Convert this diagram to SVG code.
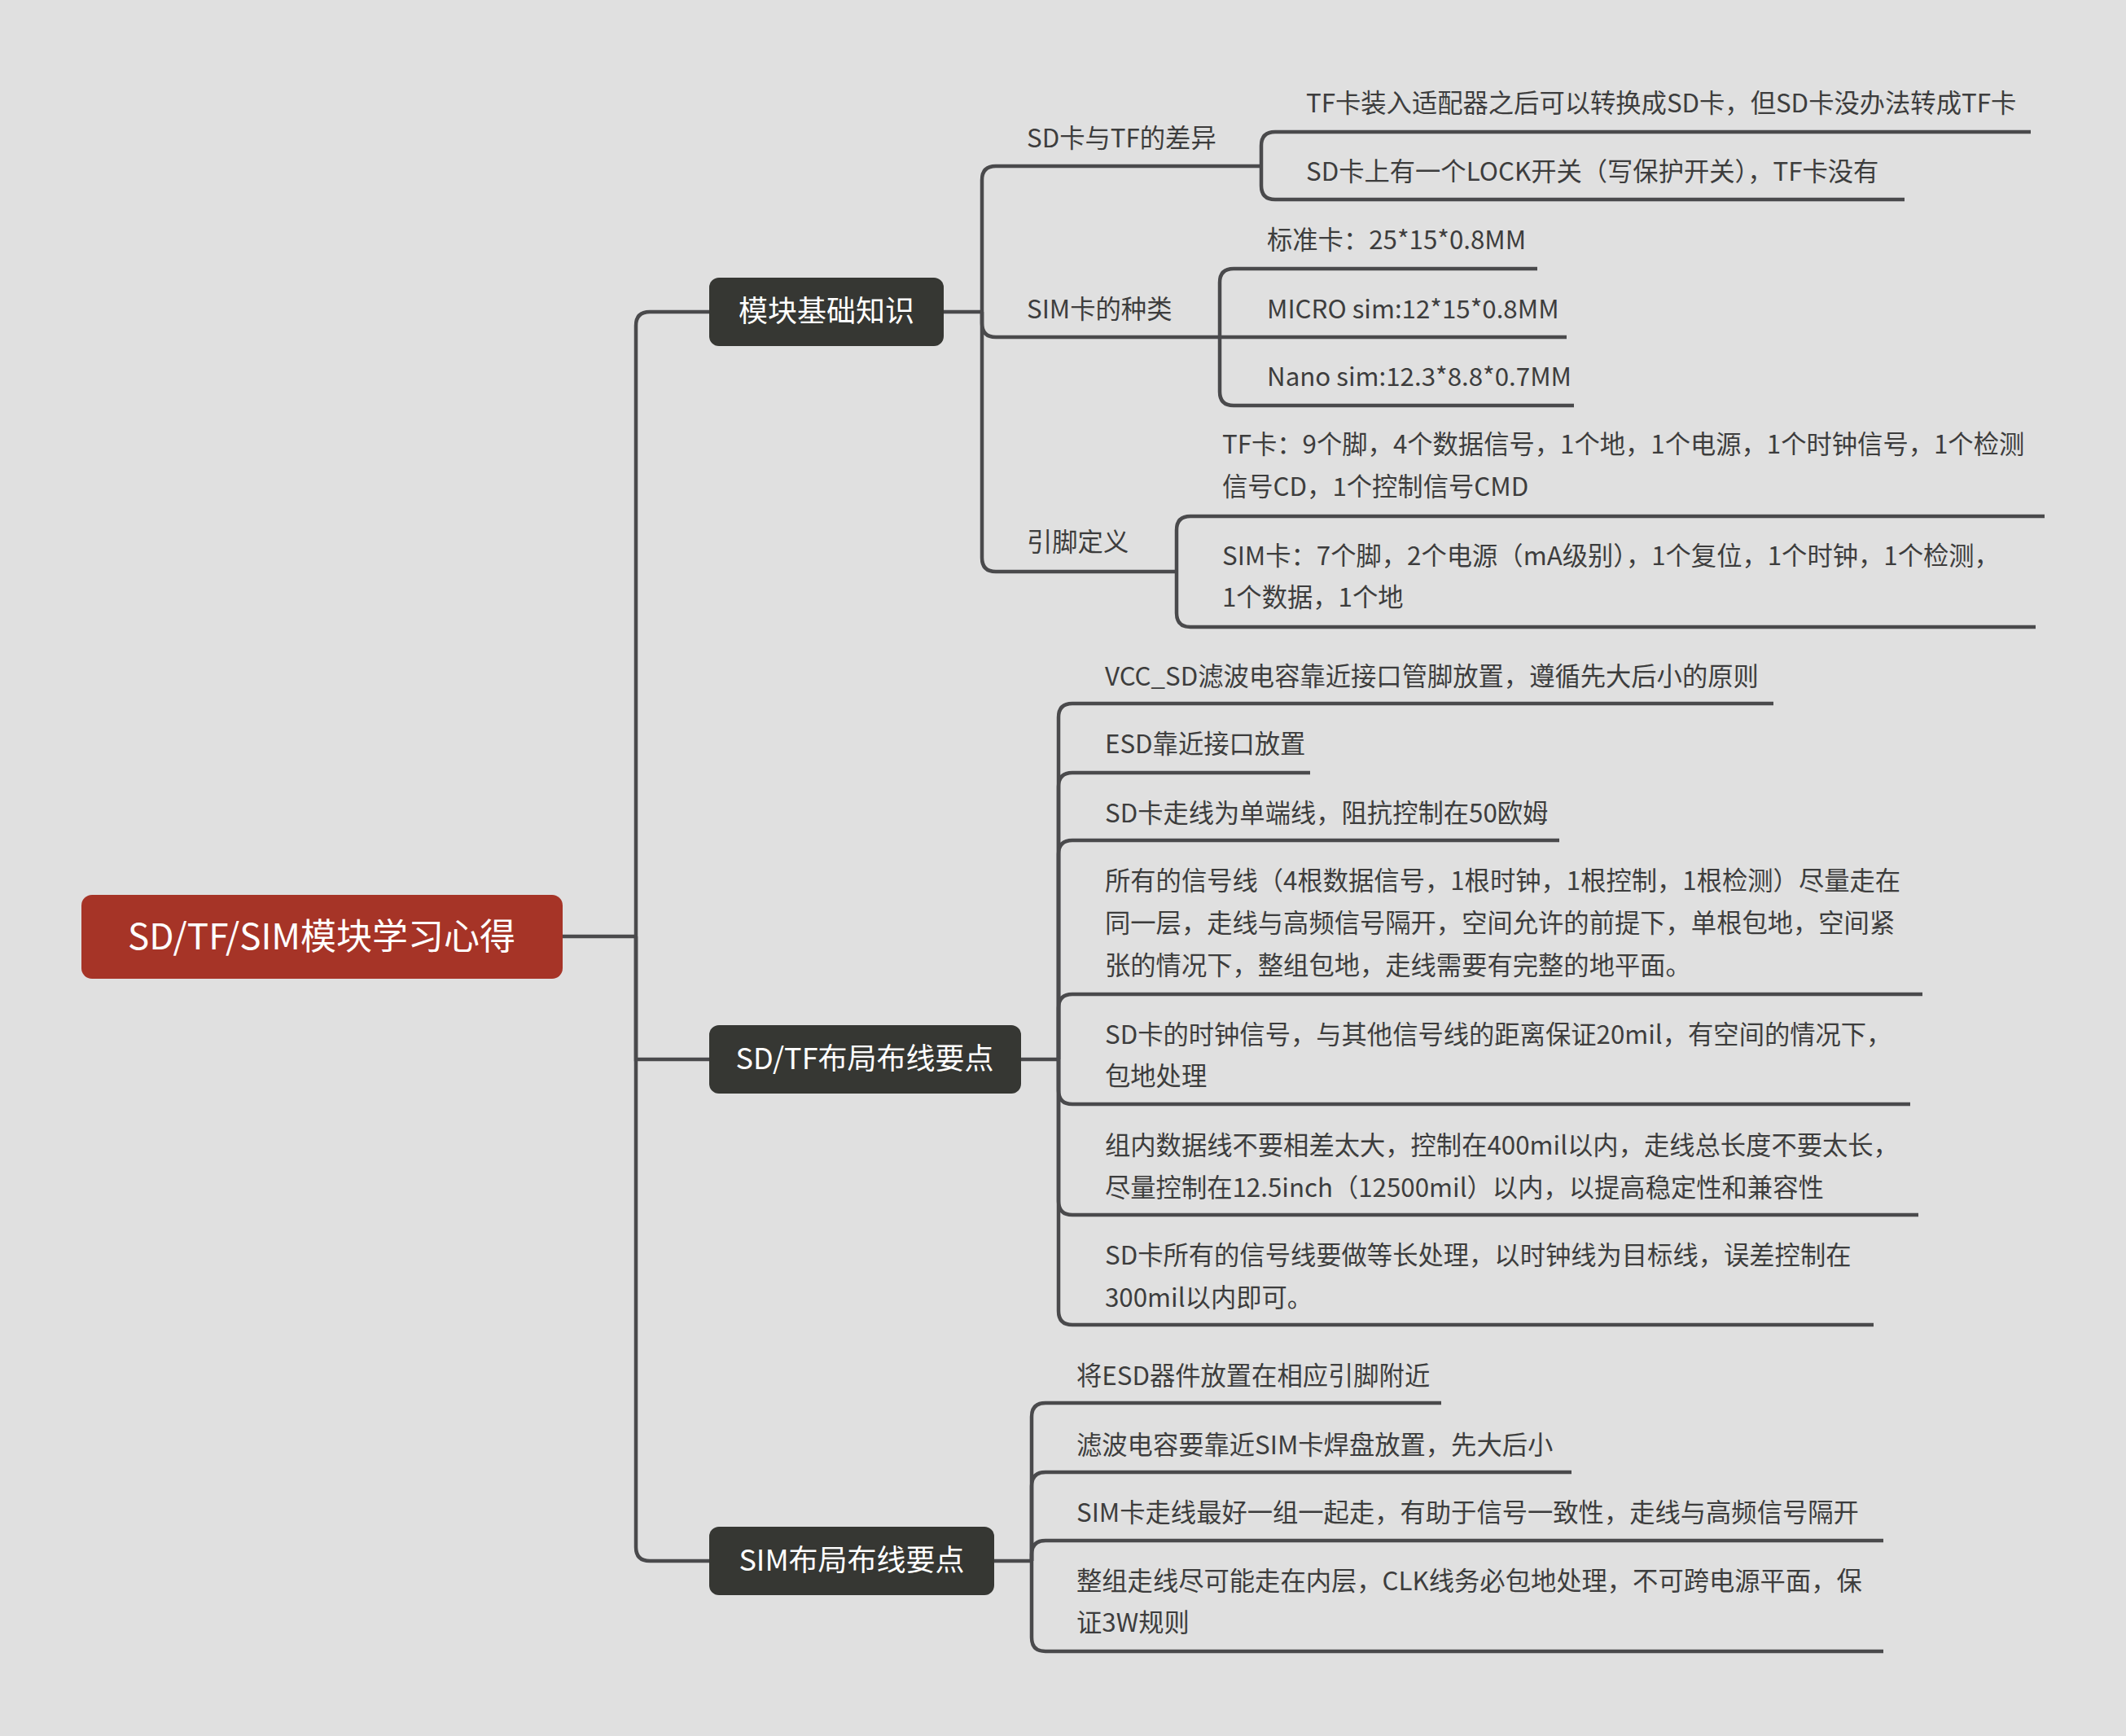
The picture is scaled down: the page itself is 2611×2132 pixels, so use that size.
<svg xmlns="http://www.w3.org/2000/svg" width="2611" height="2132" viewBox="0 0 2611 2132">
<style>
.c{fill:none;stroke:#4a4a4c;stroke-width:4.5}
.t{font-family:"Noto Sans CJK SC","Noto Sans",sans-serif;font-size:31.3px;fill:#3d3d3d}
.n{font-family:"Noto Sans CJK SC","Noto Sans",sans-serif;font-size:36px;fill:#ffffff}
</style>
<rect width="2611" height="2132" fill="#e0e0e0"/>
<g id="connectors" class="c">
<path d="M691 1150 H781"/>
<path d="M781 1150 V400 Q781 383 798 383 H871"/>
<path d="M781 1150 V1301 H871"/>
<path d="M781 1150 V1900 Q781 1917 798 1917 H871"/>
<path d="M1159 383 H1206"/>
<path d="M1206 383 V221 Q1206 204 1223 204 H1549"/>
<path d="M1206 383 V397 Q1206 414 1223 414 H1498"/>
<path d="M1206 383 V685 Q1206 702 1223 702 H1445"/>
<path d="M1549 204 V179 Q1549 162 1566 162 H2494"/>
<path d="M1549 204 V228 Q1549 245 1566 245 H2339"/>
<path d="M1498 414 V347 Q1498 330 1515 330 H1888"/>
<path d="M1498 414 H1924"/>
<path d="M1498 414 V481 Q1498 498 1515 498 H1933"/>
<path d="M1445 702 V651 Q1445 634 1462 634 H2511"/>
<path d="M1445 702 V753 Q1445 770 1462 770 H2500"/>
<path d="M1254 1301 H1300"/>
<path d="M1300 1301 V881 Q1300 864 1317 864 H2178"/>
<path d="M1300 1301 V966 Q1300 949 1317 949 H1609"/>
<path d="M1300 1301 V1049 Q1300 1032 1317 1032 H1915"/>
<path d="M1300 1301 V1238 Q1300 1221 1317 1221 H2361"/>
<path d="M1300 1301 V1339 Q1300 1356 1317 1356 H2346"/>
<path d="M1300 1301 V1475 Q1300 1492 1317 1492 H2356"/>
<path d="M1300 1301 V1610 Q1300 1627 1317 1627 H2301"/>
<path d="M1221 1917 H1267"/>
<path d="M1267 1917 V1740 Q1267 1723 1284 1723 H1770"/>
<path d="M1267 1917 V1825 Q1267 1808 1284 1808 H1930"/>
<path d="M1267 1917 V1909 Q1267 1892 1284 1892 H2313"/>
<path d="M1267 1917 V2011 Q1267 2028 1284 2028 H2313"/>
</g>
<g id="root"><rect x="100" y="1099" width="591" height="103" rx="13" fill="#a63427"/><text x="395" y="1166" text-anchor="middle" class="n" style="font-size:44px">SD/TF/SIM模块学习心得</text></g>
<g id="n1"><rect x="871" y="341" width="288" height="84" rx="12" fill="#363733"/><text x="1015" y="395" text-anchor="middle" class="n">模块基础知识</text></g>
<g id="n2"><rect x="871" y="1259" width="383" height="84" rx="12" fill="#363733"/><text x="1062" y="1313" text-anchor="middle" class="n">SD/TF布局布线要点</text></g>
<g id="n3"><rect x="871" y="1875" width="350" height="84" rx="12" fill="#363733"/><text x="1046" y="1929" text-anchor="middle" class="n">SIM布局布线要点</text></g>
<g id="a1"><text x="1261" y="181" class="t">SD卡与TF的差异</text></g>
<g id="a2"><text x="1261" y="391" class="t">SIM卡的种类</text></g>
<g id="a3"><text x="1261" y="677" class="t">引脚定义</text></g>
<g id="b1"><text x="1604" y="138" class="t">TF卡装入适配器之后可以转换成SD卡，但SD卡没办法转成TF卡</text></g>
<g id="b2"><text x="1604" y="222" class="t">SD卡上有一个LOCK开关（写保护开关），TF卡没有</text></g>
<g id="b3"><text x="1556" y="306" class="t">标准卡：25*15*0.8MM</text></g>
<g id="b4"><text x="1556" y="391" class="t">MICRO sim:12*15*0.8MM</text></g>
<g id="b5"><text x="1556" y="474" class="t">Nano sim:12.3*8.8*0.7MM</text></g>
<g id="b6"><text class="t"><tspan x="1501" y="557">TF卡：9个脚，4个数据信号，1个地，1个电源，1个时钟信号，1个检测</tspan><tspan x="1501" y="609">信号CD，1个控制信号CMD</tspan></text></g>
<g id="b7"><text class="t"><tspan x="1501" y="694">SIM卡：7个脚，2个电源（mA级别），1个复位，1个时钟，1个检测，</tspan><tspan x="1501" y="745">1个数据，1个地</tspan></text></g>
<g id="c1"><text x="1357" y="842" class="t">VCC_SD滤波电容靠近接口管脚放置，遵循先大后小的原则</text></g>
<g id="c2"><text x="1357" y="925" class="t">ESD靠近接口放置</text></g>
<g id="c3"><text x="1357" y="1010" class="t">SD卡走线为单端线，阻抗控制在50欧姆</text></g>
<g id="c4"><text class="t"><tspan x="1357" y="1093">所有的信号线（4根数据信号，1根时钟，1根控制，1根检测）尽量走在</tspan><tspan x="1357" y="1145">同一层，走线与高频信号隔开，空间允许的前提下，单根包地，空间紧</tspan><tspan x="1357" y="1197">张的情况下，整组包地，走线需要有完整的地平面。</tspan></text></g>
<g id="c5"><text class="t"><tspan x="1357" y="1282">SD卡的时钟信号，与其他信号线的距离保证20mil，有空间的情况下，</tspan><tspan x="1357" y="1333">包地处理</tspan></text></g>
<g id="c6"><text class="t"><tspan x="1357" y="1418">组内数据线不要相差太大，控制在400mil以内，走线总长度不要太长，</tspan><tspan x="1357" y="1470">尽量控制在12.5inch（12500mil）以内，以提高稳定性和兼容性</tspan></text></g>
<g id="c7"><text class="t"><tspan x="1357" y="1553">SD卡所有的信号线要做等长处理，以时钟线为目标线，误差控制在</tspan><tspan x="1357" y="1605">300mil以内即可。</tspan></text></g>
<g id="d1"><text x="1322" y="1701" class="t">将ESD器件放置在相应引脚附近</text></g>
<g id="d2"><text x="1322" y="1786" class="t">滤波电容要靠近SIM卡焊盘放置，先大后小</text></g>
<g id="d3"><text x="1322" y="1869" class="t">SIM卡走线最好一组一起走，有助于信号一致性，走线与高频信号隔开</text></g>
<g id="d4"><text class="t"><tspan x="1322" y="1953">整组走线尽可能走在内层，CLK线务必包地处理，不可跨电源平面，保</tspan><tspan x="1322" y="2004">证3W规则</tspan></text></g>
</svg>
